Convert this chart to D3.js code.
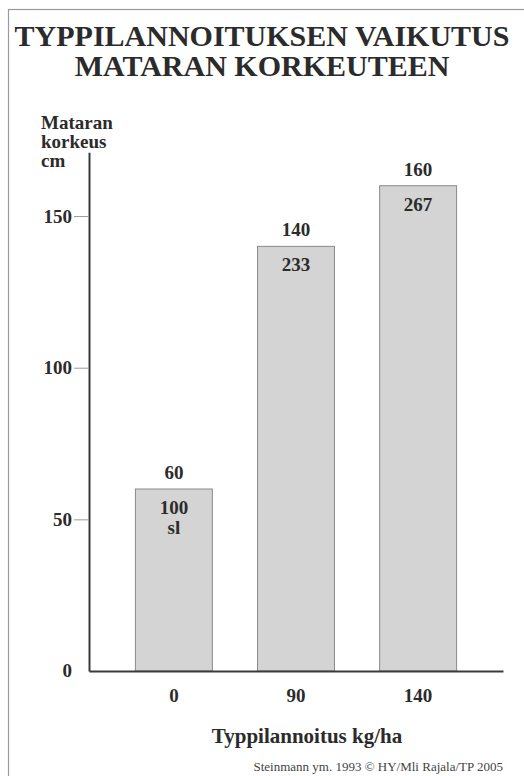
<!DOCTYPE html>
<html>
<head>
<meta charset="utf-8">
<script src="https://cdn.jsdelivr.net/npm/d3@7"></script>
<style>
  html, body { margin: 0; padding: 0; background: #fff; }
  svg { display: block; }
</style>
</head>
<body>
<svg id="chart" width="524" height="776"></svg>
<script>
// Nitrogen rate (kg/ha) and resulting plant height (cm)
const categories = ["0", "90", "140"];
const heights = [60, 140, 160];
// Relative height index shown inside each bar (control = 100)
const relLabels = [["100", "sl"], ["233"], ["267"]];
const yTicks = [0, 50, 100, 150];
const titleLines = ["TYPPILANNOITUKSEN VAIKUTUS", "MATARAN KORKEUTEEN"];
const yTitleLines = ["Mataran", "korkeus", "cm"];
const xTitle = "Typpilannoitus kg/ha";
const sourceNote = "Steinmann ym. 1993  \u00A9 HY/Mli Rajala/TP 2005";

const FONT = "Liberation Serif";
const INK = "#2b2b2b";
const svg = d3.select("#chart")
  .attr("font-family", FONT).attr("font-weight", "bold");
const W = 524, H = 776;

// helper for styled text
function label(sel, size, weight) {
  return sel.attr("font-family", FONT)
    .attr("font-weight", weight || "bold")
    .attr("font-size", size)
    .attr("fill", INK);
}

// outer frame
svg.append("rect")
  .attr("x", 8.5).attr("y", 9.5)
  .attr("width", W + 10).attr("height", H + 10)
  .attr("fill", "none").attr("stroke", "#9a9a9a").attr("stroke-width", 1.2);

// title
label(svg.append("g").selectAll("text").data(titleLines).join("text"), 30)
  .attr("x", 262).attr("y", (d, i) => 46 + i * 30)
  .attr("text-anchor", "middle")
  .text(d => d);

const x0 = 89, x1 = 503, yBase = 671;

const x = d3.scaleBand().domain(categories).range([x0, x1])
  .paddingInner(0.37).paddingOuter(0.38);
const y = d3.scaleLinear().domain([0, 171]).range([yBase, yBase - 171 * 3.033]);

// bars
svg.append("g").selectAll("rect").data(heights).join("rect")
  .attr("x", (d, i) => x(categories[i]))
  .attr("y", d => y(d))
  .attr("width", x.bandwidth())
  .attr("height", d => y(0) - y(d))
  .attr("fill", "#d4d4d4")
  .attr("stroke", "#8a8a8a").attr("stroke-width", 1);

// y axis
const yAxis = d3.axisLeft(y).tickValues(yTicks.filter(t => t > 0))
  .tickSize(15).tickPadding(2).tickSizeOuter(0);
const gy = svg.append("g").attr("transform", `translate(${x0},0)`).call(yAxis)
  .attr("font-family", FONT).attr("font-size", 19);
gy.select(".domain").attr("stroke", "#3a3a3a").attr("stroke-width", 2);
gy.selectAll(".tick line").attr("stroke", "#9a9a9a").attr("stroke-width", 1);
label(gy.selectAll(".tick text"), 19);
// zero label sits without a tick mark
label(svg.append("text"), 19)
  .attr("x", 72).attr("y", y(0)).attr("dy", "0.32em")
  .attr("text-anchor", "end").text(yTicks[0]);

// x axis baseline and labels
const xAxis = d3.axisBottom(x).tickSize(0).tickPadding(18);
const gx = svg.append("g").attr("transform", `translate(0,${yBase})`).call(xAxis)
  .attr("font-family", FONT).attr("font-size", 19);
gx.select(".domain").attr("stroke", "#3a3a3a").attr("stroke-width", 2);
label(gx.selectAll(".tick text"), 19);

// value labels above bars
label(svg.append("g").selectAll("text").data(heights).join("text"), 19)
  .attr("x", (d, i) => x(categories[i]) + x.bandwidth() / 2)
  .attr("y", d => y(d) - 10)
  .attr("text-anchor", "middle")
  .text(d => d);

// relative index inside bars
heights.forEach((h, i) => {
  const cx = x(categories[i]) + x.bandwidth() / 2;
  label(svg.append("text"), 19)
    .attr("x", cx)
    .attr("y", y(h) + 25)
    .attr("text-anchor", "middle")
    .selectAll("tspan").data(relLabels[i]).join("tspan")
    .attr("x", cx)
    .attr("dy", (d, j) => j === 0 ? 0 : 20)
    .text(d => d);
});

// y axis title
label(svg.append("text"), 19)
  .attr("x", 41).attr("y", 129)
  .selectAll("tspan").data(yTitleLines).join("tspan")
  .attr("x", 41).attr("dy", (d, i) => i === 0 ? 0 : 19)
  .text(d => d);

// x axis title
label(svg.append("text"), 21)
  .attr("x", 307).attr("y", 743)
  .attr("text-anchor", "middle")
  .text(xTitle);

// source note
label(svg.append("text"), 13, "normal")
  .attr("x", 503).attr("y", 771)
  .attr("text-anchor", "end")
  .attr("fill", "#444")
  .text(sourceNote);
</script>
</body>
</html>
